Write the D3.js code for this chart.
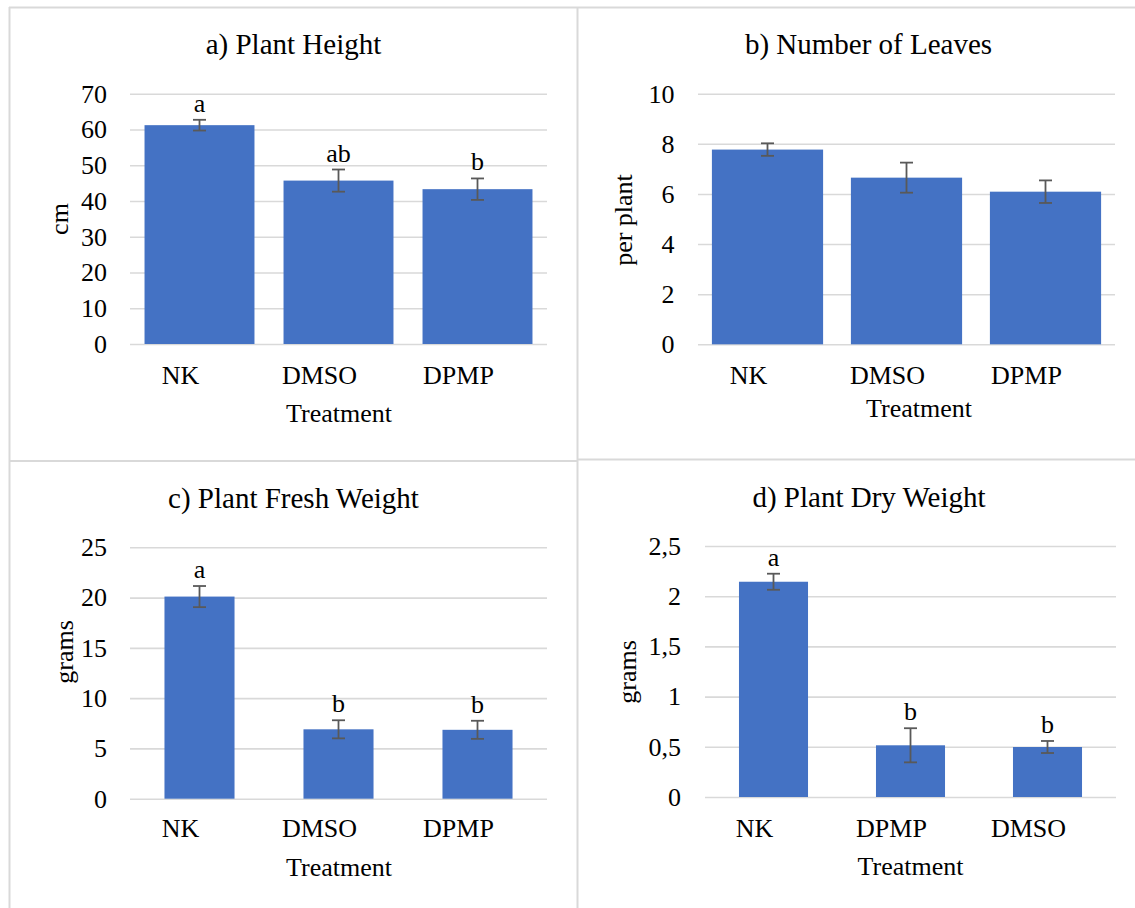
<!DOCTYPE html>
<html>
<head>
<meta charset="utf-8">
<script src="https://cdn.jsdelivr.net/npm/d3@7"></script>
<style>
  html, body { margin: 0; padding: 0; background: #fff; }
  svg { display: block; }
  svg text { font-family: 'Liberation Serif', 'Tinos', 'Times New Roman', serif; fill: #000; }
</style>
</head>
<body>
<svg id="chart" width="1135" height="908"></svg>
<script>
// ---------- data ----------
const titles = ["a) Plant Height", "b) Number of Leaves", "c) Plant Fresh Weight", "d) Plant Dry Weight"];
const yLabels = ["cm", "per plant", "grams", "grams"];
const xLabel = "Treatment";

const catsA = ["NK", "DMSO", "DPMP"];
const heightMean = [61.2, 45.7, 43.3];
const heightErr = [1.5, 3.1, 3.0];
const heightLetters = ["a", "ab", "b"];
const heightTicks = [0, 10, 20, 30, 40, 50, 60, 70];

const catsB = ["NK", "DMSO", "DPMP"];
const leavesMean = [7.77, 6.65, 6.09];
const leavesErr = [0.25, 0.6, 0.45];
const leavesLetters = ["", "", ""];
const leavesTicks = [0, 2, 4, 6, 8, 10];

const catsC = ["NK", "DMSO", "DPMP"];
const freshMean = [20.1, 6.9, 6.85];
const freshErr = [1.05, 0.9, 0.9];
const freshLetters = ["a", "b", "b"];
const freshTicks = [0, 5, 10, 15, 20, 25];

const catsD = ["NK", "DPMP", "DMSO"];
const dryMean = [2.144, 0.515, 0.498];
const dryErr = [0.08, 0.17, 0.06];
const dryLetters = ["a", "b", "b"];
const dryTicks = [0, 0.5, 1, 1.5, 2, 2.5];

// ---------- layout ----------
const FONT = "'Liberation Serif', 'Tinos', 'Times New Roman', serif";
const BAR = "#4472C4", GRID = "#d9d9d9", ERR = "#595959", BORDER = "#d9d9d9";
const fmtComma = v => String(v).replace(".", ",");

const panels = [
  { title: titles[0], ylab: yLabels[0], cats: catsA, mean: heightMean, err: heightErr, letters: heightLetters, ticks: heightTicks,
    x0: 130, x1: 547, y0: 344, y1: 93.7, pad: 0.209, titleX: 293.5, titleY: 53.5, tickX: 107, catY: 384, xlabX: 339, xlabY: 421.5, ylabX: 68, ylabY: 219, fmt: d => d },
  { title: titles[1], ylab: yLabels[1], cats: catsB, mean: leavesMean, err: leavesErr, letters: leavesLetters, ticks: leavesTicks,
    x0: 698, x1: 1115, y0: 344.3, y1: 93.7, pad: 0.2, titleX: 868.5, titleY: 53.5, tickX: 674.5, catY: 383.5, xlabX: 919, xlabY: 417, ylabX: 632, ylabY: 220, fmt: d => d },
  { title: titles[2], ylab: yLabels[2], cats: catsC, mean: freshMean, err: freshErr, letters: freshLetters, ticks: freshTicks,
    x0: 130, x1: 547, y0: 798.7, y1: 547.3, pad: 0.496, titleX: 293.5, titleY: 507.5, tickX: 107, catY: 837, xlabX: 339, xlabY: 875.5, ylabX: 73, ylabY: 652, fmt: d => d },
  { title: titles[3], ylab: yLabels[3], cats: catsD, mean: dryMean, err: dryErr, letters: dryLetters, ticks: dryTicks,
    x0: 705, x1: 1116, y0: 797, y1: 546, pad: 0.496, titleX: 869, titleY: 507, tickX: 681, catY: 836.5, xlabX: 910.5, xlabY: 875, ylabX: 636, ylabY: 672, fmt: fmtComma }
];

const svg = d3.select("#chart");

// panel borders
const borders = svg.append("g").attr("stroke", BORDER).attr("stroke-width", 2).attr("fill", "none");
borders.append("line").attr("x1", 9).attr("x2", 1135).attr("y1", 7.5).attr("y2", 7.5);
borders.append("line").attr("x1", 9.5).attr("x2", 9.5).attr("y1", 7).attr("y2", 908);
borders.append("line").attr("x1", 577.5).attr("x2", 577.5).attr("y1", 7).attr("y2", 908);
borders.append("line").attr("x1", 9).attr("x2", 577).attr("y1", 461).attr("y2", 461);
borders.append("line").attr("x1", 578).attr("x2", 1135).attr("y1", 459.5).attr("y2", 459.5);

function txt(sel) { return sel.style("font-family", FONT).attr("fill", "#000"); }

panels.forEach(p => {
  const g = svg.append("g");
  const x = d3.scaleBand().domain(p.cats).range([p.x0, p.x1]).paddingInner(p.pad).paddingOuter(p.pad / 2);
  const top = p.ticks[p.ticks.length - 1];
  const y = d3.scaleLinear().domain([0, top]).range([p.y0, p.y1]);

  // gridlines (via axis)
  const grid = g.append("g").attr("transform", `translate(${p.x0},0)`)
    .call(d3.axisLeft(y).tickValues(p.ticks).tickSize(-(p.x1 - p.x0)).tickFormat(""));
  grid.select(".domain").remove();
  grid.selectAll("line").attr("stroke", GRID).attr("stroke-width", 1.6);

  // y tick labels
  g.append("g").selectAll("text").data(p.ticks).join("text")
    .call(txt)
    .attr("x", p.tickX).attr("y", d => y(d)).attr("dy", "0.34em")
    .attr("text-anchor", "end").attr("font-size", 26).text(p.fmt);

  // bars
  const data = p.cats.map((c, i) => ({ c, m: p.mean[i], e: p.err[i], l: p.letters[i] }));
  g.append("g").selectAll("rect").data(data).join("rect")
    .attr("x", d => x(d.c)).attr("width", x.bandwidth())
    .attr("y", d => y(d.m)).attr("height", d => y(0) - y(d.m))
    .attr("fill", BAR);

  // error bars
  const eg = g.append("g").attr("stroke", ERR).attr("stroke-width", 1.8);
  data.forEach(d => {
    const cx = x(d.c) + x.bandwidth() / 2;
    eg.append("line").attr("x1", cx).attr("x2", cx).attr("y1", y(d.m + d.e)).attr("y2", y(d.m - d.e));
    eg.append("line").attr("x1", cx - 6.5).attr("x2", cx + 6.5).attr("y1", y(d.m + d.e)).attr("y2", y(d.m + d.e));
    eg.append("line").attr("x1", cx - 6.5).attr("x2", cx + 6.5).attr("y1", y(d.m - d.e)).attr("y2", y(d.m - d.e));
  });

  // significance letters
  g.append("g").selectAll("text").data(data.filter(d => d.l)).join("text")
    .call(txt)
    .attr("x", d => x(d.c) + x.bandwidth() / 2).attr("y", d => y(d.m + d.e) - 8)
    .attr("text-anchor", "middle").attr("font-size", 26).text(d => d.l);

  // category labels
  g.append("g").selectAll("text").data(p.cats).join("text")
    .call(txt)
    .attr("x", d => x(d) + x.bandwidth() / 2 - 19).attr("y", p.catY)
    .attr("text-anchor", "middle").attr("font-size", 26).text(d => d);

  // titles
  g.append("text").call(txt).attr("x", p.titleX).attr("y", p.titleY).attr("text-anchor", "middle")
    .attr("font-size", 29).text(p.title);
  g.append("text").call(txt).attr("x", p.xlabX).attr("y", p.xlabY).attr("text-anchor", "middle")
    .attr("font-size", 26).text(xLabel);
  g.append("text").call(txt).attr("transform", `translate(${p.ylabX},${p.ylabY}) rotate(-90)`)
    .attr("text-anchor", "middle").attr("font-size", 26).text(p.ylab);
});
</script>
</body>
</html>
